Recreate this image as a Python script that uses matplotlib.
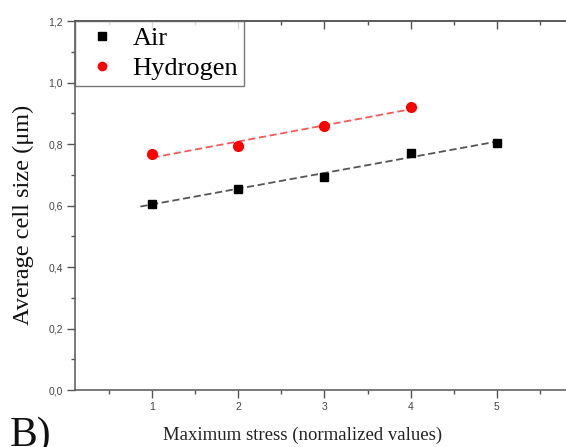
import matplotlib.pyplot as plt
import numpy as np
from matplotlib.ticker import FuncFormatter, MultipleLocator

# average cell size vs. normalized maximum stress
stress_air = [1, 2, 3, 4, 5]
size_air = [0.606, 0.655, 0.694, 0.771, 0.803]
stress_h2 = [1, 2, 3, 4]
size_h2 = [0.766, 0.795, 0.857, 0.920]

serif = 'Liberation Serif'
sans = 'Liberation Sans'

fig = plt.figure(figsize=(5.66, 4.47), dpi=100)
ax = fig.add_axes([0.1325, 0.1275, 0.8816, 0.8255])

# linear fits (dashed)
for xs, ys, xr, col in [(stress_air, size_air, (0.86, 5.0), '#555555'),
                        (stress_h2, size_h2, (1.0, 4.0), '#f05a5a')]:
    k, b = np.polyfit(xs, ys, 1)
    xf = np.linspace(xr[0], xr[1], 50)
    ax.plot(xf, k * xf + b, ls=(0, (4, 2)), color=col, lw=1.3, zorder=2)

ax.plot(stress_air, size_air, ls='none', marker='s', ms=6, color='black',
        label='Air', zorder=3)
ax.plot(stress_h2, size_h2, ls='none', marker='o', ms=7, color='red',
        label='Hydrogen', zorder=3)

ax.set_xlim(0.1, 5.9)
ax.set_ylim(0, 1.2)
ax.xaxis.set_major_locator(MultipleLocator(1))
ax.xaxis.set_minor_locator(MultipleLocator(0.5))
ax.yaxis.set_major_locator(MultipleLocator(0.2))
ax.yaxis.set_minor_locator(MultipleLocator(0.1))
ax.yaxis.set_major_formatter(FuncFormatter(lambda v, p: f'{v:.1f}'.replace('.', ',')))
ax.xaxis.set_major_formatter(FuncFormatter(lambda v, p: f'{v:.0f}'))

for s in ax.spines.values():
    s.set_color('#555555')
    s.set_linewidth(1.1)

ax.tick_params(which='both', direction='out', color='#555555', width=1.0,
               labelsize=7.5, labelcolor='#444444', top=False)
ax.tick_params(which='major', length=5.5, pad=3)
ax.tick_params(which='minor', length=3)
for lab in ax.get_xticklabels() + ax.get_yticklabels():
    lab.set_family(sans)

# inward ticks along the top edge
top = ax.secondary_xaxis('top')
top.xaxis.set_major_locator(MultipleLocator(1))
top.xaxis.set_minor_locator(MultipleLocator(0.5))
top.tick_params(which='both', direction='in', color='#555555', width=1.0,
                labeltop=False)
top.tick_params(which='major', length=5.5)
top.tick_params(which='minor', length=3)
top.spines['top'].set_color('#555555')
top.spines['top'].set_linewidth(1.1)

ax.set_xlabel('Maximum stress (normalized values)', family=serif, fontsize=13.5,
              color='#222222')
ax.xaxis.set_label_coords(0.457, -0.1)
ax.set_ylabel('Average cell size (\u03bcm)', family=serif, fontsize=17.5,
              color='#111111')
ax.yaxis.set_label_coords(-0.082, 0.474)

leg = ax.legend(loc='upper left', borderaxespad=0, fancybox=False,
                edgecolor='#555555', prop={'family': serif, 'size': 19},
                markerscale=0.85, handlelength=1.6, handletextpad=0.35,
                labelspacing=0.25, borderpad=0.22)
leg.get_frame().set_linewidth(1.0)

fig.text(0.018, 0.002, 'B)', family=serif, fontsize=30, va='baseline',
         color='#111111')

fig.savefig('out.png', dpi=100)
